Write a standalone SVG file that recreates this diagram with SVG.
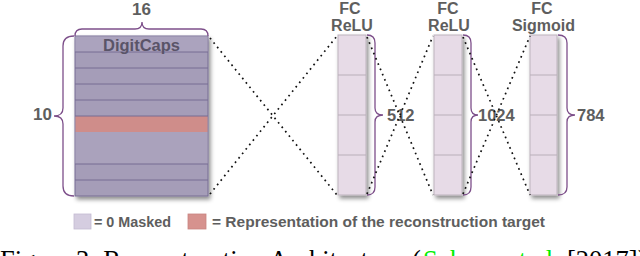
<svg xmlns="http://www.w3.org/2000/svg" width="640" height="256" viewBox="0 0 640 256">
<defs>
<filter id="sh" x="-30%" y="-10%" width="160%" height="125%">
<feDropShadow dx="2" dy="3" stdDeviation="2.2" flood-color="#000" flood-opacity="0.45"/>
</filter>
<style>
.lbl{font-family:"Liberation Sans",Arial,sans-serif;font-weight:bold;fill:#5e5e5e;}
.brace{fill:none;stroke:#7d4f8a;stroke-width:1.3;}
.dot{fill:none;stroke:#111;stroke-width:1.7;stroke-dasharray:1.7 4;}
.row{stroke:#776d93;stroke-width:1;}
.fc{fill:#e7dbe7;stroke:#bdb3bd;stroke-width:1;}
.cell{stroke:#b9afb9;stroke-width:1;}
.cap{font-family:"Liberation Serif","Times New Roman",serif;font-size:26.5px;fill:#000;}
</style>
</defs>
<rect width="640" height="256" fill="#fff"/>

<g id="digitcaps">
<g filter="url(#sh)">
<rect x="75" y="36" width="133" height="160" fill="#a59db8" stroke="#776d93" stroke-width="1"/>
</g>
<rect x="75.5" y="36.5" width="132" height="15.5" fill="#aba3be"/>
<rect x="75.5" y="116" width="132" height="16" fill="#cf8d8a"/>
<rect x="75.5" y="132" width="132" height="32" fill="#aaa2bc"/>
<line class="row" x1="75" y1="52" x2="208" y2="52"/>
<line class="row" x1="75" y1="68" x2="208" y2="68"/>
<line class="row" x1="75" y1="84" x2="208" y2="84"/>
<line class="row" x1="75" y1="100" x2="208" y2="100"/>
<line class="row" x1="75" y1="116" x2="208" y2="116" stroke="#b77a78"/>
<line class="row" x1="75" y1="164" x2="208" y2="164"/>
<line class="row" x1="75" y1="180" x2="208" y2="180"/>
<text class="lbl" x="141.5" y="51" font-size="16.5" text-anchor="middle" style="fill:#5a5468">DigitCaps</text>
<path class="brace" d="M75,36 Q75,29 82,29 L135,29 Q142,29 142,22 Q142,29 149,29 L201,29 Q208,29 208,36"/>
<text class="lbl" x="141.5" y="15" font-size="17" text-anchor="middle">16</text>
<path class="brace" d="M74,36 Q63,36 63,46 L63,108 Q63,116 54,116 Q63,116 63,124 L63,186 Q63,196 74,196"/>
<text class="lbl" x="52" y="120" font-size="17" text-anchor="end">10</text>
</g>

<g id="fc1">
<rect class="fc" x="338" y="35" width="28" height="160" filter="url(#sh)"/>
<line class="cell" x1="338" y1="75" x2="366" y2="75"/>
<line class="cell" x1="338" y1="115" x2="366" y2="115"/>
<line class="cell" x1="338" y1="155" x2="366" y2="155"/>
<text class="lbl" x="350" y="13.5" font-size="16" text-anchor="middle">FC</text>
<text class="lbl" x="352" y="31" font-size="16" text-anchor="middle">ReLU</text>
<path class="brace" d="M367,35 Q375,35 375,43 L375,108 Q375,115 383,115 Q375,115 375,122 L375,187 Q375,195 367,195"/>
<text class="lbl" x="387" y="121" font-size="16.5">512</text>
</g>

<g id="fc2">
<rect class="fc" x="434" y="35" width="28" height="160" filter="url(#sh)"/>
<line class="cell" x1="434" y1="75" x2="462" y2="75"/>
<line class="cell" x1="434" y1="115" x2="462" y2="115"/>
<line class="cell" x1="434" y1="155" x2="462" y2="155"/>
<text class="lbl" x="448" y="13.5" font-size="16" text-anchor="middle">FC</text>
<text class="lbl" x="449" y="31" font-size="16" text-anchor="middle">ReLU</text>
<path class="brace" d="M463,35 Q471,35 471,43 L471,108 Q471,115 478,115 Q471,115 471,122 L471,187 Q471,195 463,195"/>
<text class="lbl" x="478" y="121" font-size="16.5">1024</text>
</g>

<g id="fc3">
<rect class="fc" x="530" y="35" width="27" height="160" filter="url(#sh)"/>
<line class="cell" x1="530" y1="75" x2="557" y2="75"/>
<line class="cell" x1="530" y1="115" x2="557" y2="115"/>
<line class="cell" x1="530" y1="155" x2="557" y2="155"/>
<text class="lbl" x="542" y="13.5" font-size="16" text-anchor="middle">FC</text>
<text class="lbl" x="543.5" y="31" font-size="16" text-anchor="middle">Sigmoid</text>
<path class="brace" d="M558,35 Q567,35 567,43 L567,108 Q567,115 575,115 Q567,115 567,122 L567,187 Q567,195 558,195"/>
<text class="lbl" x="577" y="121" font-size="16.5">784</text>
</g>

<g id="connectors">
<line class="dot" x1="210" y1="38" x2="337" y2="195"/>
<line class="dot" x1="210" y1="194" x2="337" y2="36"/>
<line class="dot" x1="367" y1="37" x2="433" y2="195"/>
<line class="dot" x1="367" y1="194" x2="433" y2="36"/>
<line class="dot" x1="463" y1="37" x2="530" y2="195"/>
<line class="dot" x1="463" y1="194" x2="530" y2="36"/>
</g>

<g id="legend">
<rect x="74" y="214" width="17" height="15" fill="#d5cde0" stroke="#c4bbd2" stroke-width="0.8"/>
<text class="lbl" x="94" y="227" font-size="14.5" textLength="77" lengthAdjust="spacingAndGlyphs">= 0 Masked</text>
<rect x="188" y="214" width="18" height="15" fill="#d6928e" stroke="#c88480" stroke-width="0.8"/>
<text class="lbl" x="212" y="227" font-size="14.5" textLength="333" lengthAdjust="spacingAndGlyphs">= Representation of the reconstruction target</text>
</g>

<g id="caption">
<text class="cap" x="0" y="269" textLength="402" lengthAdjust="spacing">Figure 3: Reconstruction Architecture</text>
<text class="cap" x="412" y="269">(</text>
<text class="cap" x="423" y="269" style="fill:#00ee00" textLength="137" lengthAdjust="spacing">Sabour et al.</text>
<text class="cap" x="567" y="269">[2017]).</text>
</g>
</svg>
